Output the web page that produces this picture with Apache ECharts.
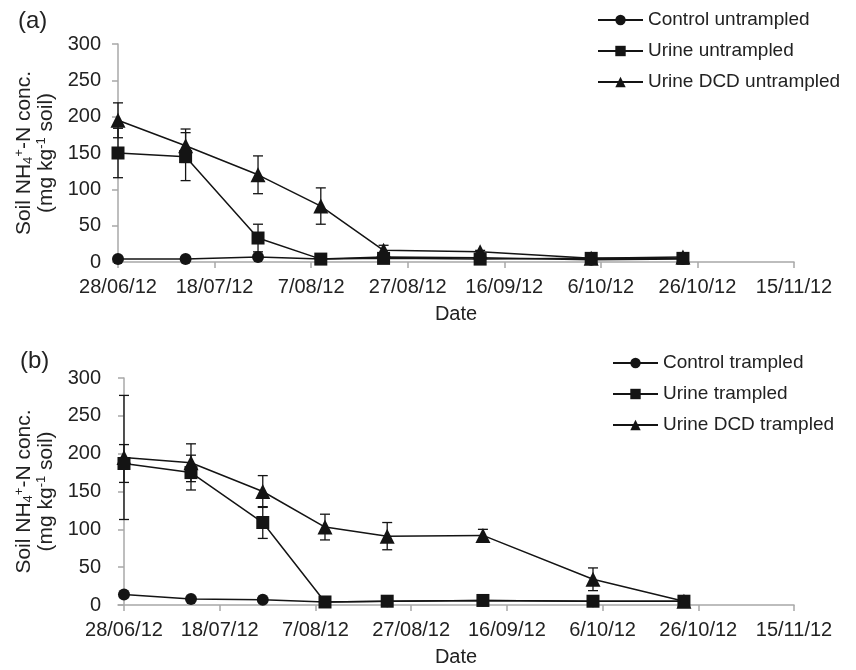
<!DOCTYPE html>
<html>
<head>
<meta charset="utf-8">
<script src="https://cdn.jsdelivr.net/npm/echarts@6/dist/echarts.min.js"></script>
<style>
  html, body { margin: 0; padding: 0; background: #fff; }
  #chart { width: 856px; height: 670px; }
</style>
</head>
<body>
<div id="chart"></div>
<script>
// sampling days, counted from 28/06/12
const sampleDays = [0, 14, 29, 42, 55, 75, 98, 117];
const tickDays = [0, 20, 40, 60, 80, 100, 120, 140];
const xTickLabels = ['28/06/12', '18/07/12', '7/08/12', '27/08/12', '16/09/12', '6/10/12', '26/10/12', '15/11/12'];

// (a) untrampled
const controlUntrampled = [4, 4, 7, 4, 7, 6, 3, 4];
const urineUntrampled = [150, 145, 33, 4, 5, 4, 5, 5];
const dcdUntrampled = [195, 160, 120, 77, 16, 14, 5, 7];
const urineUntrampledErr = [34, 33, 19, 0, 2, 0, 0, 0];
const dcdUntrampledErr = [24, 23, 26, 25, 7, 2, 0, 2];

// (b) trampled
const controlTrampled = [14, 8, 7, 4, 5, 6, 5, 5];
const urineTrampled = [187, 175, 109, 4, 5, 6, 5, 5];
const dcdTrampled = [195, 188, 150, 103, 91, 92, 34, 5];
const urineTrampledErr = [25, 23, 21, 0, 0, 0, 0, 0];
const dcdTrampledErr = [82, 25, 21, 17, 18, 8, 15, 0];

const INK = '#141414';
const AXIS = '#a8a8a8';
const TXT = '#222';
const FONT = 'Liberation Sans, Arial, sans-serif';

const chart = echarts.init(document.getElementById('chart'));

function pts(vals) {
  return vals.map((v, i) => [sampleDays[i], v]);
}

function lineSeries(name, vals, symbol, size, idx) {
  return {
    name, type: 'line', xAxisIndex: idx, yAxisIndex: idx,
    data: pts(vals), symbol, symbolSize: size,
    lineStyle: { color: INK, width: 1.5 },
    itemStyle: { color: INK },
    z: 3, animation: false
  };
}

// vertical error bars with caps
function errSeries(vals, errs, idx) {
  return {
    type: 'custom', xAxisIndex: idx, yAxisIndex: idx, z: 2, silent: true,
    animation: false,
    data: vals.map((v, i) => [sampleDays[i], v, errs[i]]),
    renderItem(params, api) {
      const e = api.value(2);
      if (!e) return null;
      const x = api.value(0), y = api.value(1);
      const top = api.coord([x, y + e]);
      const bot = api.coord([x, Math.max(0, y - e)]);
      const w = 5;
      const st = { stroke: INK, lineWidth: 1.3 };
      return {
        type: 'group',
        children: [
          { type: 'line', shape: { x1: top[0], y1: top[1], x2: bot[0], y2: bot[1] }, style: st },
          { type: 'line', shape: { x1: top[0] - w, y1: top[1], x2: top[0] + w, y2: top[1] }, style: st },
          { type: 'line', shape: { x1: bot[0] - w, y1: bot[1], x2: bot[0] + w, y2: bot[1] }, style: st }
        ]
      };
    }
  };
}

const yTitle = '{t|Soil NH}{sub|4}{sup|+}{t|-N conc.}\n{t|(mg kg}{sup|-1}{t| soil)}';

function xAxisFor(idx, min) {
  return {
    type: 'value', gridIndex: idx, min, max: 140,
    name: 'Date', nameLocation: 'middle', nameGap: 42,
    nameTextStyle: { fontSize: 20, color: TXT, fontFamily: FONT },
    axisLine: { lineStyle: { color: AXIS, width: 1.5 } },
    axisTick: { show: true, length: 6, customValues: tickDays, lineStyle: { color: AXIS, width: 1.5 } },
    axisLabel: {
      color: TXT, fontSize: 20, fontFamily: FONT, margin: 15,
      customValues: tickDays,
      formatter: v => xTickLabels[tickDays.indexOf(Math.round(v))]
    },
    splitLine: { show: false }
  };
}

function yAxisFor(idx) {
  return {
    type: 'value', gridIndex: idx, min: 0, max: 300, interval: 50,
    name: yTitle, nameLocation: 'middle', nameRotate: 90, nameGap: 56,
    nameTextStyle: {
      fontFamily: FONT, color: TXT, fontSize: 21,
      rich: {
        t: { fontSize: 21, lineHeight: 22, fontFamily: FONT, color: TXT },
        sub: { fontSize: 13, verticalAlign: 'bottom', fontFamily: FONT, color: TXT },
        sup: { fontSize: 13, verticalAlign: 'top', fontFamily: FONT, color: TXT }
      }
    },
    axisLine: { show: true, lineStyle: { color: AXIS, width: 1.5 } },
    axisTick: { show: true, length: 6, lineStyle: { color: AXIS, width: 1.5 } },
    axisLabel: { color: TXT, fontSize: 20, fontFamily: FONT, margin: 17 },
    splitLine: { show: false }
  };
}

function legendFor(names, left, top) {
  return {
    orient: 'vertical', left, top, padding: 0,
    itemWidth: 45, itemHeight: 13, itemGap: 11,
    data: names,
    textStyle: { fontSize: 19, color: TXT, fontFamily: FONT, lineHeight: 20 }
  };
}

chart.setOption({
  backgroundColor: '#fff',
  animation: false,
  title: [
    { text: '(a)', left: 13, top: 4, textStyle: { fontSize: 24, fontWeight: 'normal', color: TXT, fontFamily: FONT } },
    { text: '(b)', left: 15, top: 344, textStyle: { fontSize: 24, fontWeight: 'normal', color: TXT, fontFamily: FONT } }
  ],
  legend: [
    legendFor(['Control untrampled', 'Urine untrampled', 'Urine DCD untrampled'], 597, 10),
    legendFor(['Control trampled', 'Urine trampled', 'Urine DCD trampled'], 612, 353)
  ],
  grid: [
    { left: 118, top: 44, width: 676, height: 218 },
    { left: 118, top: 378, width: 676, height: 227 }
  ],
  xAxis: [xAxisFor(0, 0), xAxisFor(1, -1.25)],
  yAxis: [yAxisFor(0), yAxisFor(1)],
  series: [
    errSeries(urineUntrampled, urineUntrampledErr, 0),
    errSeries(dcdUntrampled, dcdUntrampledErr, 0),
    lineSeries('Control untrampled', controlUntrampled, 'circle', 12, 0),
    lineSeries('Urine untrampled', urineUntrampled, 'rect', 13, 0),
    lineSeries('Urine DCD untrampled', dcdUntrampled, 'triangle', 15, 0),
    errSeries(urineTrampled, urineTrampledErr, 1),
    errSeries(dcdTrampled, dcdTrampledErr, 1),
    lineSeries('Control trampled', controlTrampled, 'circle', 12, 1),
    lineSeries('Urine trampled', urineTrampled, 'rect', 13, 1),
    lineSeries('Urine DCD trampled', dcdTrampled, 'triangle', 15, 1)
  ]
});
</script>
</body>
</html>
